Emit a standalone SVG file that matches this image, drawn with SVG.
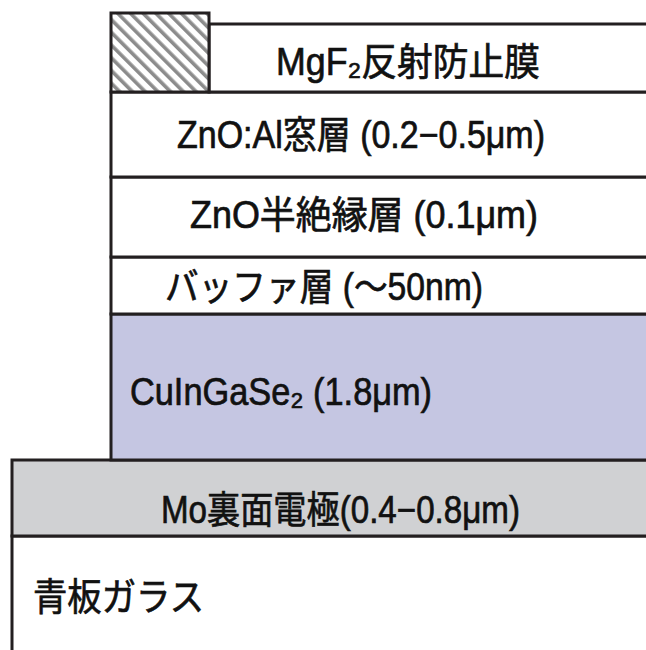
<svg xmlns="http://www.w3.org/2000/svg" width="646" height="650" viewBox="0 0 646 650">
  <style>
    .layer { stroke: #231f20; stroke-width: 3; }
    .white { fill: #ffffff; }
    .cigs { fill: #c5c6e2; }
    .mo { fill: #d0d1d3; }
    .lbl { font-family: "Liberation Sans", "Noto Sans CJK JP", sans-serif; font-size: 38px; fill: #111111; stroke: #111111; stroke-width: 0.7px; }
  </style>
  <defs>
    <pattern id="hatch" patternUnits="userSpaceOnUse" width="9" height="9" patternTransform="rotate(-45)">
      <rect width="9" height="9" fill="#ffffff"/>
      <rect x="0" y="0" width="3.6" height="9" fill="#8c8c8c"/>
    </pattern>
  </defs>
  <rect width="646" height="650" fill="#ffffff"/>

  <g id="glass">
    <rect class="layer white" x="12" y="536" width="660" height="140"/>
    <text class="lbl" x="33" y="610" textLength="171" lengthAdjust="spacingAndGlyphs">青板ガラス</text>
  </g>
  <g id="mo">
    <rect class="layer mo" x="12" y="460" width="660" height="76"/>
    <text class="lbl" x="161" y="523" textLength="359" lengthAdjust="spacingAndGlyphs">Mo裏面電極(0.4−0.8μm)</text>
  </g>
  <g id="cigs">
    <rect class="layer cigs" x="111" y="314" width="560" height="146"/>
    <text class="lbl" x="130" y="405" textLength="302" lengthAdjust="spacingAndGlyphs">CuInGaSe₂ (1.8μm)</text>
  </g>
  <g id="buffer">
    <rect class="layer white" x="111" y="257" width="560" height="57"/>
    <text class="lbl" x="165" y="300" textLength="318" lengthAdjust="spacingAndGlyphs">バッファ層 (〜50nm)</text>
  </g>
  <g id="zno-i">
    <rect class="layer white" x="111" y="177" width="560" height="80"/>
    <text class="lbl" x="190" y="228" textLength="348" lengthAdjust="spacingAndGlyphs">ZnO半絶縁層 (0.1μm)</text>
  </g>
  <g id="zno-al">
    <rect class="layer white" x="111" y="92" width="560" height="85"/>
    <text class="lbl" x="177" y="148" textLength="368" lengthAdjust="spacingAndGlyphs">ZnO:Al窓層 (0.2−0.5μm)</text>
  </g>
  <g id="mgf2">
    <rect class="layer white" x="209" y="24" width="460" height="68"/>
    <text class="lbl" x="276" y="75" textLength="264" lengthAdjust="spacingAndGlyphs">MgF₂反射防止膜</text>
  </g>
  <g id="electrode">
    <rect class="layer" x="111" y="13" width="98" height="79" fill="url(#hatch)"/>
  </g>
  <g id="connectors"></g>
</svg>
